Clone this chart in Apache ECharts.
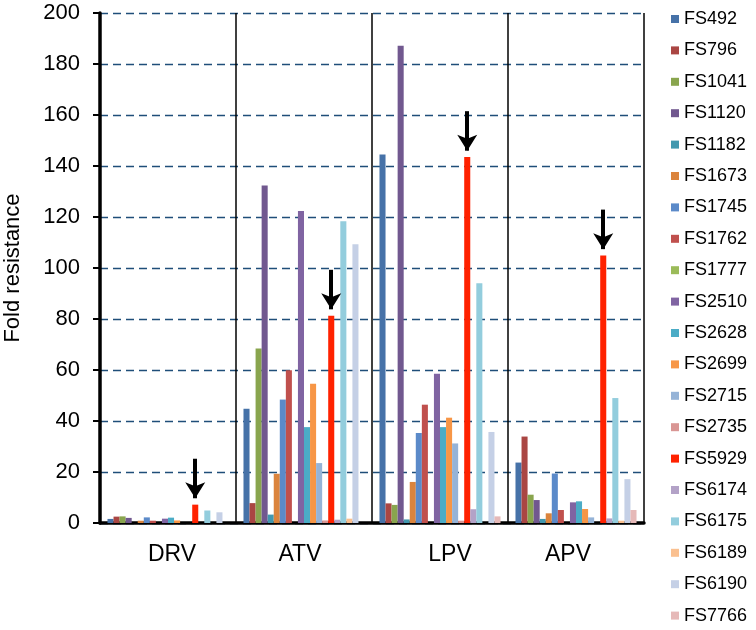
<!DOCTYPE html>
<html>
<head>
<meta charset="utf-8">
<script src="https://cdn.jsdelivr.net/npm/echarts@6/dist/echarts.min.js"></script>
<style>
  html, body { margin: 0; background: #fff; }
  #chart { width: 756px; height: 630px; }
</style>
</head>
<body>
<div id="chart"></div>
<script>
const drugs = ["DRV", "ATV", "LPV", "APV"];
const strains = [
  "FS492", "FS796", "FS1041", "FS1120", "FS1182", "FS1673", "FS1745", "FS1762", "FS1777", "FS2510",
  "FS2628", "FS2699", "FS2715", "FS2735", "FS5929", "FS6174", "FS6175", "FS6189", "FS6190", "FS7766"
];
const colors = [
  "#4672a8", "#aa4643", "#89a54e", "#71588f", "#4198af", "#db843d", "#5b8ac9", "#c0504d", "#9bbb59", "#8064a2",
  "#4bacc6", "#f79646", "#95b3d7", "#d99694", "#ff2200", "#b3a2c7", "#93cddd", "#fac090", "#c5d0e6", "#e6b9b8"
];
// fold resistance per strain, one array per drug (same order as strains)
const drv = [1.6, 2.5, 2.6, 2.0, 0, 0.9, 2.2, 0.9, 0, 1.7, 2.1, 1.0, 0, 0, 7.2, 0, 4.9, 0, 4.2, 0];
const atv = [44.8, 7.8, 68.4, 132.4, 3.3, 19.3, 48.4, 59.9, 0, 122.4, 37.6, 54.6, 23.5, 1.0, 81.3, 1.3, 118.3, 1.7, 109.3, 0];
const lpv = [144.5, 7.7, 7.1, 187.2, 1.4, 16.1, 35.3, 46.4, 0, 58.5, 37.6, 41.3, 31.2, 0.9, 143.5, 5.4, 94.0, 0, 35.7, 2.6];
const apv = [23.7, 33.9, 11.1, 9.0, 1.6, 3.8, 19.4, 5.1, 0, 8.1, 8.5, 5.5, 2.2, 0, 104.9, 1.8, 49.0, 0.9, 17.2, 5.1];
const arrowStrain = "FS5929";

const chart = echarts.init(document.getElementById("chart"), null, { renderer: "canvas" });
const font = "Liberation Sans, Arial, sans-serif";

// small horizontal nudges of the group labels, as placed in the original
const labelPad = { DRV: [0, 0, 0, 8], ATV: [0, 8, 0, 0], LPV: [0, 0, 0, 20], APV: [0, 16, 0, 0] };
const rich = {};
drugs.forEach((d) => { rich[d] = { fontSize: 23, color: "#000", padding: labelPad[d] }; });

const series = strains.map((name, i) => {
  const data = [drv[i], atv[i], lpv[i], apv[i]];
  const s = {
    name,
    type: "bar",
    data,
    barGap: 0,
    barCategoryGap: "11%",
    itemStyle: { color: colors[i] },
  };
  if (name === arrowStrain) {
    s.markLine = {
      silent: true,
      animation: false,
      symbol: ["none", "arrow"],
      symbolSize: [15, 16],
      label: { show: false },
      lineStyle: { color: "#000", width: 4, type: "solid" },
      data: drugs.map((d, j) => [
        { coord: [d, data[j] + 18] },
        { coord: [d, data[j] + 2.5] },
      ]),
    };
  }
  return s;
});

chart.setOption({
  animation: false,
  color: colors,
  textStyle: { fontFamily: font },
  grid: { left: 100, right: 112, top: 13, bottom: 107, outerBoundsMode: "none" },
  legend: {
    orient: "vertical",
    left: 671,
    top: 10,
    padding: 0,
    itemWidth: 8,
    itemHeight: 8,
    itemGap: 13.4,
    icon: "rect",
    textStyle: { fontSize: 18, color: "#000", lineHeight: 18, fontFamily: font },
    data: strains,
  },
  xAxis: {
    type: "category",
    data: drugs,
    axisLine: { lineStyle: { color: "#000", width: 3.5 } },
    axisTick: { show: false },
    axisLabel: { margin: 20, formatter: (v) => `{${v}|${v}}`, rich },
    splitLine: { show: true, lineStyle: { color: "#000", width: 1.5 } },
  },
  yAxis: {
    type: "value",
    min: 0,
    max: 200,
    interval: 20,
    name: "Fold resistance",
    nameLocation: "middle",
    nameGap: 76,
    nameTextStyle: { fontSize: 22, color: "#000" },
    axisLine: { show: true, lineStyle: { color: "#000", width: 3.5 } },
    axisTick: { show: true, length: 7, lineStyle: { color: "#000", width: 2 } },
    axisLabel: { color: "#000", fontSize: 22, margin: 20 },
    splitLine: { show: true, lineStyle: { color: "#1f4e79", width: 1.3, type: [8, 5] } },
  },
  series,
});
</script>
</body>
</html>
